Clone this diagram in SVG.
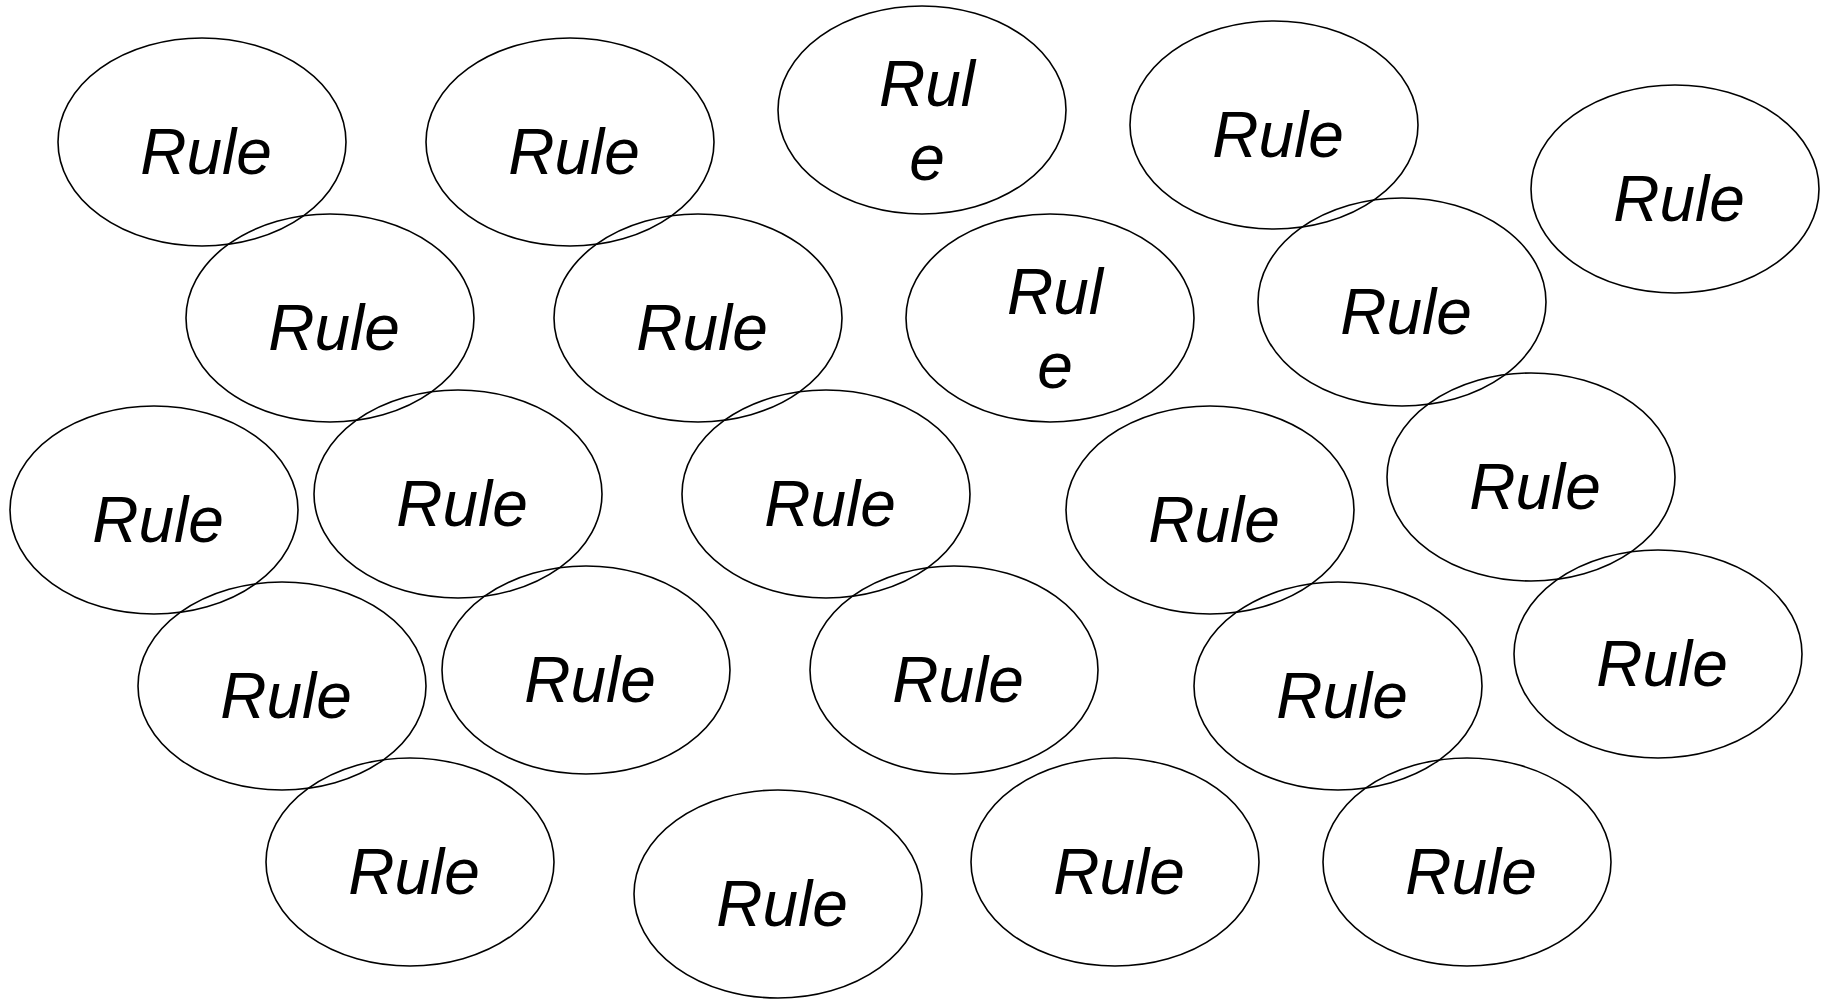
<svg xmlns="http://www.w3.org/2000/svg" width="1821" height="1000" viewBox="0 0 1821 1000">
<style>
.e{fill:none;stroke:#000;stroke-width:1.6}
.t{font-family:"Liberation Sans",Arial,sans-serif;font-style:italic;font-size:64px;fill:#000;text-anchor:middle}
</style>
<rect width="1821" height="1000" fill="#fff"/>
<g id="connectors"/>
<g id="n1"><ellipse class="e" cx="202" cy="142" rx="144" ry="104"/><text class="t" x="206" y="174">Rule</text></g>
<g id="n2"><ellipse class="e" cx="570" cy="142" rx="144" ry="104"/><text class="t" x="574" y="174">Rule</text></g>
<g id="n3"><ellipse class="e" cx="922" cy="110" rx="144" ry="104"/><text class="t" x="927" y="106">Rul</text><text class="t" x="927" y="180">e</text></g>
<g id="n4"><ellipse class="e" cx="1274" cy="125" rx="144" ry="104"/><text class="t" x="1278" y="157">Rule</text></g>
<g id="n5"><ellipse class="e" cx="1675" cy="189" rx="144" ry="104"/><text class="t" x="1679" y="221">Rule</text></g>
<g id="n6"><ellipse class="e" cx="330" cy="318" rx="144" ry="104"/><text class="t" x="334" y="350">Rule</text></g>
<g id="n7"><ellipse class="e" cx="698" cy="318" rx="144" ry="104"/><text class="t" x="702" y="350">Rule</text></g>
<g id="n8"><ellipse class="e" cx="1050" cy="318" rx="144" ry="104"/><text class="t" x="1055" y="314">Rul</text><text class="t" x="1055" y="388">e</text></g>
<g id="n9"><ellipse class="e" cx="1402" cy="302" rx="144" ry="104"/><text class="t" x="1406" y="334">Rule</text></g>
<g id="n10"><ellipse class="e" cx="154" cy="510" rx="144" ry="104"/><text class="t" x="158" y="542">Rule</text></g>
<g id="n11"><ellipse class="e" cx="458" cy="494" rx="144" ry="104"/><text class="t" x="462" y="526">Rule</text></g>
<g id="n12"><ellipse class="e" cx="826" cy="494" rx="144" ry="104"/><text class="t" x="830" y="526">Rule</text></g>
<g id="n13"><ellipse class="e" cx="1210" cy="510" rx="144" ry="104"/><text class="t" x="1214" y="542">Rule</text></g>
<g id="n14"><ellipse class="e" cx="1531" cy="477" rx="144" ry="104"/><text class="t" x="1535" y="509">Rule</text></g>
<g id="n15"><ellipse class="e" cx="282" cy="686" rx="144" ry="104"/><text class="t" x="286" y="718">Rule</text></g>
<g id="n16"><ellipse class="e" cx="586" cy="670" rx="144" ry="104"/><text class="t" x="590" y="702">Rule</text></g>
<g id="n17"><ellipse class="e" cx="954" cy="670" rx="144" ry="104"/><text class="t" x="958" y="702">Rule</text></g>
<g id="n18"><ellipse class="e" cx="1338" cy="686" rx="144" ry="104"/><text class="t" x="1342" y="718">Rule</text></g>
<g id="n19"><ellipse class="e" cx="1658" cy="654" rx="144" ry="104"/><text class="t" x="1662" y="686">Rule</text></g>
<g id="n20"><ellipse class="e" cx="410" cy="862" rx="144" ry="104"/><text class="t" x="414" y="894">Rule</text></g>
<g id="n21"><ellipse class="e" cx="778" cy="894" rx="144" ry="104"/><text class="t" x="782" y="926">Rule</text></g>
<g id="n22"><ellipse class="e" cx="1115" cy="862" rx="144" ry="104"/><text class="t" x="1119" y="894">Rule</text></g>
<g id="n23"><ellipse class="e" cx="1467" cy="862" rx="144" ry="104"/><text class="t" x="1471" y="894">Rule</text></g>
</svg>
